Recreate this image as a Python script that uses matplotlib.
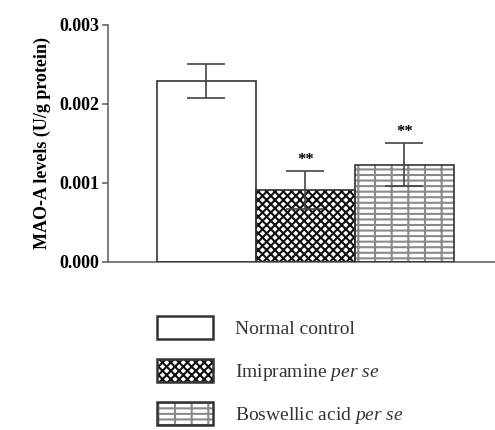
import matplotlib
matplotlib.use("Agg")
import matplotlib.pyplot as plt
from matplotlib.patches import Patch

plt.rcParams['font.family'] = ['Liberation Serif', 'DejaVu Serif']
plt.rcParams['mathtext.fontset'] = 'custom'
plt.rcParams['mathtext.rm'] = 'Liberation Serif'
plt.rcParams['mathtext.it'] = 'Liberation Serif:italic'
plt.rcParams['hatch.linewidth'] = 1.5

# --- data ---
groups = ['Normal control', r'Imipramine $\mathit{per\ se}$', r'Boswellic acid $\mathit{per\ se}$']
means = [0.00229, 0.00091, 0.00123]
errs = [0.00021, 0.00024, 0.00027]
stars = ['', '**', '**']
yticks = [0.000, 0.001, 0.002, 0.003]

# styles
faces = ['white', 'white', 'white']
hatches = [None, 'xxxx', '---|']
hatch_cols = ['#333333', '#111111', '#8a8a8a']

fig = plt.figure(figsize=(4.95, 4.3), dpi=100)
ax = fig.add_axes([0.218, 0.391, 0.782, 0.551])

xpos = [0, 1, 2]
for i in range(3):
    ax.bar(xpos[i], means[i], width=1.0, color=faces[i], edgecolor=hatch_cols[i],
           hatch=hatches[i], linewidth=0, zorder=2)
    ax.bar(xpos[i], means[i], width=1.0, color='none', edgecolor='#333333',
           linewidth=1.2, zorder=3)
    ax.errorbar(xpos[i], means[i], yerr=errs[i], fmt='none', ecolor='#444444',
                elinewidth=1.2, capsize=14, capthick=1.2, zorder=4)
    if stars[i]:
        ax.text(xpos[i], means[i] + errs[i] + 0.00004, stars[i], ha='center',
                va='bottom', fontsize=12, fontweight='bold')

ax.set_xlim(-0.995, 2.915)
ax.set_ylim(0, 0.003)
ax.set_yticks(yticks)
ax.set_yticklabels(['%.3f' % t for t in yticks], fontsize=13, fontweight='bold')
ax.set_xticks([])
ax.set_ylabel('MAO-A levels (U/g protein)', fontsize=13, fontweight='bold', labelpad=6)
for s in ['top', 'right']:
    ax.spines[s].set_visible(False)
for s in ['left', 'bottom']:
    ax.spines[s].set_color('#666666')
    ax.spines[s].set_linewidth(1.2)
ax.tick_params(axis='y', length=4, width=1.2, color='#666666', pad=2)

# legend: hatched swatch overlaid with a dark outline
handles = []
for i in range(3):
    fill = Patch(facecolor=faces[i], edgecolor=hatch_cols[i], hatch=hatches[i], linewidth=0)
    edge = Patch(facecolor='none', edgecolor='#333333', linewidth=1.8)
    handles.append((fill, edge))
leg = fig.legend(handles, groups, loc='upper left', bbox_to_anchor=(0.317, 0.265),
                 frameon=False, fontsize=14, handlelength=2.9, handleheight=1.45,
                 labelspacing=1.0, handletextpad=1.1, borderaxespad=0, borderpad=0)
for t in leg.get_texts():
    t.set_color('#333333')

fig.savefig('out.png', dpi=100)
